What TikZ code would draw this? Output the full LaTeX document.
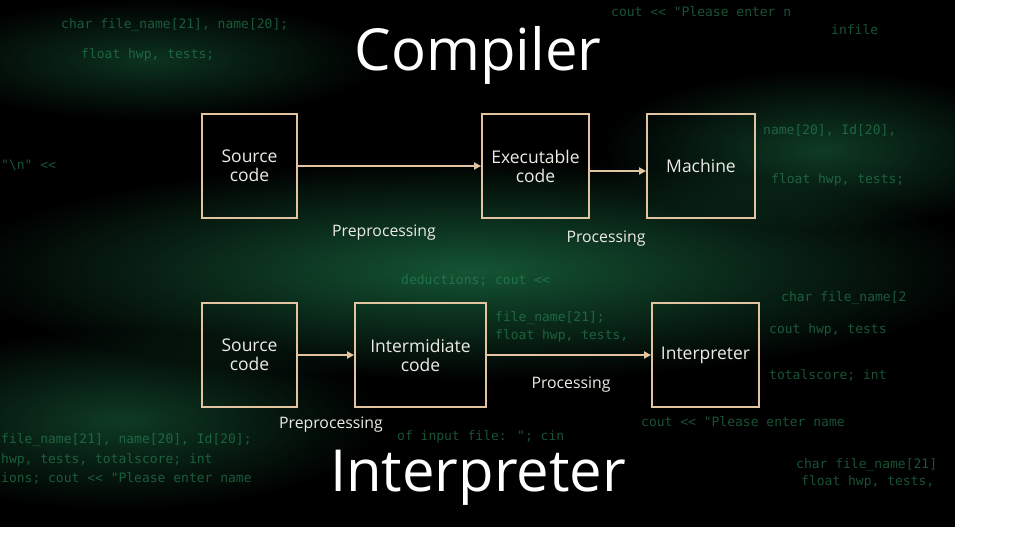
\documentclass[tikz,border=0pt]{standalone}
\usepackage{fontspec}
\setmainfont{Open Sans}
\newfontfamily\codefont{DejaVu Sans Mono}
\usepackage{xcolor}
\usetikzlibrary{positioning,arrows.meta}
\definecolor{boxline}{RGB}{226,196,160}
\definecolor{labeltext}{RGB}{236,236,228}
\definecolor{codegreen}{RGB}{46,150,96}
\definecolor{glowgreen}{RGB}{20,84,52}

\begin{document}
\begin{tikzpicture}[x=1pt, y=-1pt,
  stepbox/.style={draw=boxline, line width=1.8pt, minimum width=95pt, minimum height=104pt,
    align=center, text=labeltext, font=\fontsize{17.5}{19}\selectfont, inner sep=2pt},
  flow/.style={draw=boxline, line width=1.8pt, -{Triangle[length=7pt, width=7pt]}},
  flowlabel/.style={text=labeltext, font=\fontsize{15.8}{18}\selectfont},
  title/.style={text=white, font=\fontsize{58}{64}\selectfont, inner sep=1pt},
  code/.style={text=codegreen, font=\codefont\fontsize{13}{15}\selectfont, anchor=west, opacity=0.55, inner sep=1pt}
]
\useasboundingbox (0,0) rectangle (1024,538);
\fill[white] (0,0) rectangle (1024,538);
\fill[black] (0,0) rectangle (955,527);
% green glow behind the code
\begin{scope}
  \clip (0,0) rectangle (955,527);
  \shade[blend mode=screen, inner color=glowgreen, outer color=black] (470,270) ellipse (520 and 110);
  \shade[blend mode=screen, inner color=glowgreen!70!black, outer color=black] (120,420) ellipse (260 and 90);
  \shade[blend mode=screen, inner color=glowgreen!70!black, outer color=black] (820,150) ellipse (220 and 80);
  \shade[blend mode=screen, inner color=glowgreen!60!black, outer color=black] (150,60) ellipse (230 and 60);
  % faint code
  \node[code] at (60,25) {char file\_name[21], name[20];};
  \node[code] at (80,55) {float hwp, tests;};
  \node[code] at (610,12) {cout << "Please enter n};
  \node[code] at (830,30) {infile};
  \node[code] at (0,165) {"\textbackslash n" <<};
  \node[code] at (762,130) {name[20], Id[20],};
  \node[code] at (770,180) {float hwp, tests;};
  \node[code] at (780,298) {char file\_name[2};
  \node[code] at (768,330) {cout hwp,  tests};
  \node[code] at (768,375) {totalscore; int};
  \node[code] at (640,422) {cout << "Please enter name};
  \node[code] at (0,440) {file\_name[21], name[20], Id[20];};
  \node[code] at (0,460) {hwp, tests, totalscore; int};
  \node[code] at (0,478) {ions; cout << "Please enter name};
  \node[code] at (795,465) {char file\_name[21]};
  \node[code] at (800,482) {float hwp, tests,};
  \node[code] at (494,318) {file\_name[21];};
  \node[code] at (494,336) {float hwp, tests,};
  \node[code] at (400,280) {deductions; cout <<};
  \node[code] at (396,437) {of input file: "; cin};
\end{scope}
% Compiler row
\node[title] (ctitle) at (478,55) {Compiler};
\node[stepbox] (csrc) at (249.5,166) {Source\\code};
\node[stepbox, minimum width=107pt] (cexe) at (535.5,166) {Executable\\code};
\node[stepbox, minimum width=108pt] (cmach) at (701,166) {Machine};
\draw[flow] (csrc) -- (cexe);
\draw[flow] (cexe.east |- 0,171) -- (cmach.west |- 0,171);
\node[flowlabel] (cpre) at (384,233) {Preprocessing};
\node[flowlabel] (cproc) at (606,239) {Processing};
% Interpreter row
\node[stepbox] (isrc) at (249.5,355) {Source\\code};
\node[stepbox, minimum width=131pt] (imid) at (420.5,355) {Intermidiate\\code};
\node[stepbox, minimum width=107pt] (iint) at (705.5,355) {Interpreter};
\draw[flow] (isrc) -- (imid);
\draw[flow] (imid) -- (iint);
\node[flowlabel] (ipre) at (331,425) {Preprocessing};
\node[flowlabel] (iproc) at (571,385) {Processing};
\node[title] (ititle) at (478,478) {Interpreter};
\end{tikzpicture}
\end{document}
